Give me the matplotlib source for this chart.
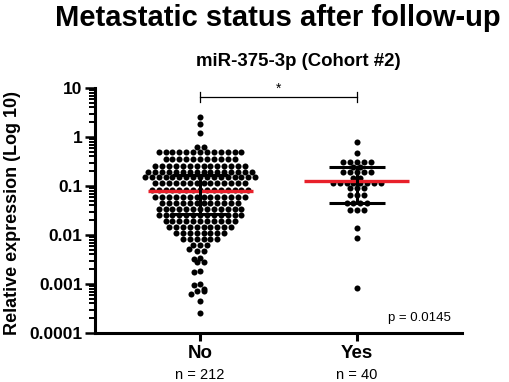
import matplotlib
matplotlib.use("Agg")
import matplotlib.pyplot as plt
import numpy as np

plt.rcParams['font.family'] = ['Liberation Sans', 'DejaVu Sans']

groups = ["No", "Yes"]
group_n = ["n = 212", "n = 40"]

# rows of the swarm: value, number of dots
no_levels = [2.56, 1.84, 1.2, 0.625, 0.49, 0.36, 0.256, 0.193, 0.153, 0.115, 0.083,
             0.060, 0.045, 0.034, 0.0256, 0.0193, 0.0146, 0.011, 0.0083, 0.0063,
             0.0052, 0.0047, 0.0034, 0.0032, 0.0028, 0.0018, 0.00176, 0.0010,
             0.00095, 0.0008, 0.00072, 0.00063, 0.00045, 0.00026]
no_counts = [1, 1, 1, 2, 13, 11, 14, 16, 17, 14, 15,
             14, 12, 13, 13, 11, 10, 8, 6, 3,
             1, 2, 1, 1, 2, 1, 1, 1,
             1, 1, 2, 1, 1, 1]

yes_levels = [0.79, 0.47, 0.31, 0.244, 0.193, 0.146, 0.115, 0.091, 0.065, 0.045,
              0.032, 0.0139, 0.0087, 0.00083]
yes_counts = [1, 1, 5, 2, 5, 2, 8, 3, 3, 4, 3, 1, 1, 1]

# q1, median, q3
no_stats = [0.027, 0.079, 0.168]
yes_stats = [0.045, 0.127, 0.245]

p_text = "p = 0.0145"

fig = plt.figure(figsize=(5.1, 3.82), dpi=100)
ax = fig.add_axes([95/510, 49/382, 367/510, 245/382])
ax.set_yscale("log")
ax.set_ylim(0.0001, 10)
ax.set_xlim(-0.67, 1.67)


def swarm(x0, vals, counts, dx=6.9, d=6.0):
    pts = []
    xc = ax.transData.transform((x0, 1))[0]
    for v, c in zip(vals, counts):
        py = ax.transData.transform((x0, v))[1]
        if c > 1:
            xs = [xc + (i - (c - 1) / 2) * dx for i in range(c)]
        else:
            cand = [0.0]
            for px, qy in pts:
                dy = abs(qy - py)
                if dy < d:
                    w = np.sqrt(d * d - dy * dy)
                    cand += [px - xc - w, px - xc + w]
            cand.sort(key=abs)
            c0 = 0.0
            for c0 in cand:
                if all((xc + c0 - px) ** 2 + (py - qy) ** 2 >= d * d - 1e-6 for px, qy in pts):
                    break
            xs = [xc + c0]
        for px in xs:
            pts.append((px, py))
    inv = ax.transData.inverted()
    return np.array([inv.transform(p) for p in pts])


for i, (lv, ct, st) in enumerate([(no_levels, no_counts, no_stats),
                                   (yes_levels, yes_counts, yes_stats)]):
    xy = swarm(i, lv, ct)
    ax.scatter(xy[:, 0], xy[:, 1], s=19, color="black", linewidths=0, zorder=2)
    ax.plot([i - 0.335, i + 0.335], [st[1], st[1]], color="#e8202a", lw=2.4, zorder=3,
            solid_capstyle="butt")
    ax.plot([i, i], [st[0], st[2]], color="black", lw=2.2, zorder=4)
    for q in (st[0], st[2]):
        ax.plot([i - 0.18, i + 0.18], [q, q], color="black", lw=2.2, zorder=4,
                solid_capstyle="butt")

# significance bracket
by = 6.5
ax.plot([0, 1], [by, by], color="black", lw=0.9, clip_on=False)
for bx in (0, 1):
    ax.plot([bx, bx], [by * 0.8, by * 1.25], color="black", lw=0.9, clip_on=False)
ax.text(0.5, by * 1.05, "*", ha="center", va="bottom", fontsize=10)

ax.text(0.97, 0.035, p_text, transform=ax.transAxes, ha="right", va="bottom", fontsize=9.5)

for s in ("top", "right"):
    ax.spines[s].set_visible(False)
for s in ("left", "bottom"):
    ax.spines[s].set_linewidth(2.2)

ax.set_xticks([0, 1])
ax.set_xticklabels(groups, fontsize=13.5, fontweight="bold")
for i, t in enumerate(group_n):
    ax.text(i, -0.172, t, transform=ax.get_xaxis_transform(), ha="center", va="center",
            fontsize=10.5)
ax.tick_params(axis="x", length=6, width=2.2, pad=3)
ax.set_yticks([0.0001, 0.001, 0.01, 0.1, 1, 10])
ax.set_yticklabels(["0.0001", "0.001", "0.01", "0.1", "1", "10"], fontsize=12.5,
                   fontweight="bold")
ax.tick_params(axis="y", which="major", length=7, width=1.8, pad=2)
ax.tick_params(axis="y", which="minor", length=4, width=1.4)
ax.set_ylabel("Relative expression (Log 10)", fontsize=13, fontweight="bold")
ax.yaxis.set_label_coords(-(95 - 21) / 367, 0.49)

fig.text(278/510, 1 - 18/382, "Metastatic status after follow-up", ha="center", va="center",
         fontsize=21, fontweight="bold")
fig.text(298/510, 1 - 62/382, "miR-375-3p (Cohort #2)", ha="center", va="center",
         fontsize=13.4, fontweight="bold")

fig.savefig("out.png", dpi=100)
